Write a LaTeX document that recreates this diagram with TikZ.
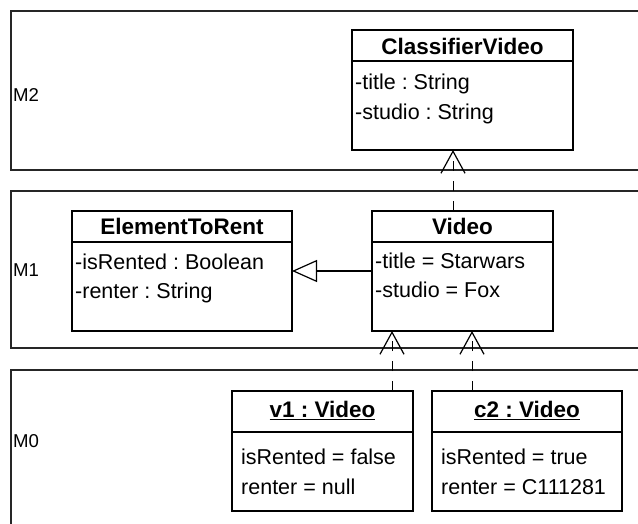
\documentclass[tikz,border=0pt]{standalone}
\usepackage{fontspec}
\setmainfont{Liberation Sans}
\usetikzlibrary{arrows.meta}
\frenchspacing
\begin{document}
\begin{tikzpicture}[x=1pt,y=-1pt,
  layer/.style={line width=1.5pt, draw=black!85},
  box/.style={draw, line width=1.5pt, fill=white, inner sep=0pt, outer sep=0pt, anchor=north west},
  sep/.style={line width=1.5pt},
  hdr/.style={font=\fontsize{22.5}{25}\selectfont\bfseries, inner sep=0pt, anchor=base},
  attr/.style={font=\fontsize{21.5}{24}\selectfont, inner sep=0pt, anchor=base west},
  lbl/.style={font=\fontsize{18.6}{22}\selectfont, inner sep=0pt, anchor=base west},
  realize/.style={line width=1pt, dash pattern=on 10pt off 10pt, -{Straight Barb[length=22pt,width=24pt,line width=1.2pt]}},
  gen/.style={line width=1.2pt, -{Triangle[open,length=25pt,width=22pt,fill=white,line width=1.2pt]}}
]
\useasboundingbox (0,0) rectangle (638,524);
\clip (0,0) rectangle (638,524);
% layers
\draw[layer] (645,11) -- (11,11) -- (11,170) -- (645,170);
\draw[layer] (645,191) -- (11,191) -- (11,348) -- (645,348);
\draw[layer] (645,370) -- (11,370) -- (11,530);
\node[lbl] (m2) at (13,101.7) {M2};
\node[lbl] (m1) at (13,276.7) {M1};
\node[lbl] (m0) at (13,447.7) {M0};
% ClassifierVideo
\node[box, minimum width=221pt, minimum height=120pt] (cv) at (352,30) {};
\draw[sep] (352,61) -- (573,61);
\node[hdr] (cvh) at (462.5,54.7) {ClassifierVideo};
\node[attr] (cva1) at (355,89.7) {-title : String};
\node[attr] (cva2) at (355,119.7) {-studio : String};
% ElementToRent
\node[box, minimum width=220pt, minimum height=120pt] (etr) at (72,211) {};
\draw[sep] (72,242) -- (292,242);
\node[hdr] (etrh) at (182,234.7) {ElementToRent};
\node[attr] (etra1) at (75,269.7) {-isRented : Boolean};
\node[attr] (etra2) at (75,298.7) {-renter : String};
% Video
\node[box, minimum width=181pt, minimum height=120pt] (video) at (372,211) {};
\draw[sep] (372,242) -- (553,242);
\node[hdr] (videoh) at (462.5,234.7) {Video};
\node[attr] (videoa1) at (375,268.7) {-title = Starwars};
\node[attr] (videoa2) at (375,297.7) {-studio = Fox};
% v1
\node[box, minimum width=181pt, minimum height=120pt] (v1) at (232,391) {};
\draw[sep] (232,432) -- (413,432);
\node[hdr] (v1h) at (322.5,417.7) {\underline{v1 : Video}};
\node[attr] (v1a1) at (241,464.7) {isRented = false};
\node[attr] (v1a2) at (241,494.7) {renter = null};
% c2
\node[box, minimum width=190pt, minimum height=120pt] (c2) at (432,391) {};
\draw[sep] (432,432) -- (622,432);
\node[hdr] (c2h) at (527,417.7) {\underline{c2 : Video}};
\node[attr] (c2a1) at (441,464.7) {isRented = true};
\node[attr] (c2a2) at (441,494.7) {renter = C111281};
% connectors
\draw[realize] ([xshift=-9.5pt]video.north) -- ([xshift=-9.5pt]cv.south);
\draw[realize] ([xshift=69.5pt]v1.north) -- ([xshift=69.5pt]v1.north |- video.south);
\draw[realize] ([xshift=-55pt]c2.north) -- ([xshift=-55pt]c2.north |- video.south);
\draw[gen] (video.west) -- (etr.east);
\end{tikzpicture}
\end{document}
